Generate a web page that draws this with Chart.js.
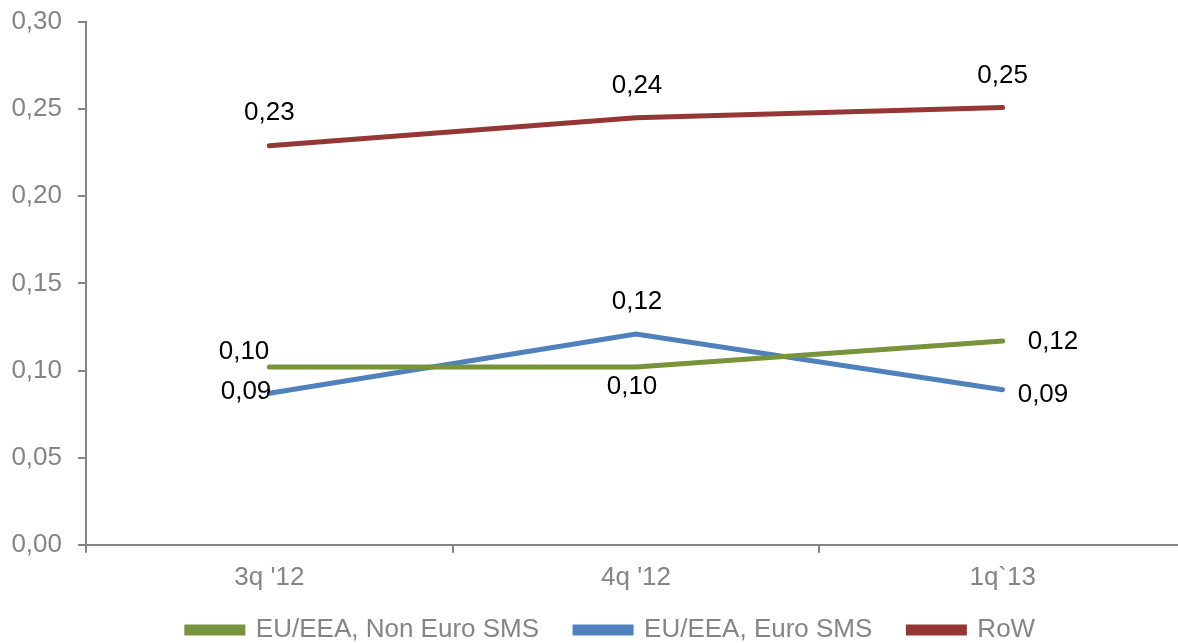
<!DOCTYPE html>
<html>
<head>
<meta charset="utf-8">
<script src="https://cdn.jsdelivr.net/npm/chart.js@4"></script>
<style>
  html, body { margin: 0; padding: 0; background: #fff; overflow: hidden; }
  #wrap { width: 1186px; height: 643px; }
</style>
</head>
<body>
<div id="wrap"><canvas id="c"></canvas></div>
<script>
  const quarters = ["3q '12", "4q '12", '1q`13'];
  const nonEuroSms = [0.102, 0.102, 0.117];
  const euroSms = [0.087, 0.121, 0.089];
  const restOfWorld = [0.229, 0.245, 0.251];
  const yTicks = [0, 0.05, 0.10, 0.15, 0.20, 0.25, 0.30];

  const GRAY = '#858585';
  const FONT = '"Liberation Sans", Arial, sans-serif';
  const fmt = (v) => v.toFixed(2).replace('.', ',');

  // where each value label sits relative to its point: [dx, dy, align]
  const labelSpots = [
    [[0, -15, 'right'], [-4, 20, 'center'], [25, 1, 'left']],
    [[2, -1, 'right'], [1, -32, 'center'], [15, 5, 'left']],
    [[0, -33, 'center'], [1, -32, 'center'], [0, -32, 'center']],
  ];

  const valueLabels = {
    id: 'valueLabels',
    afterDatasetsDraw(chart) {
      const ctx = chart.ctx;
      ctx.save();
      ctx.font = '26px ' + FONT;
      ctx.fillStyle = '#000';
      ctx.textBaseline = 'middle';
      chart.data.datasets.forEach((ds, i) => {
        chart.getDatasetMeta(i).data.forEach((pt, j) => {
          const [dx, dy, align] = labelSpots[i][j];
          ctx.textAlign = align;
          ctx.fillText(fmt(ds.data[j]), pt.x + dx, pt.y + dy);
        });
      });
      ctx.restore();
    },
  };

  // keep the legend short so the plot gets the room, then nudge it into place
  const legendPlace = {
    id: 'legendPlace',
    beforeInit(chart) {
      const fit = chart.legend.fit;
      chart.legend.fit = function () {
        fit.call(this);
        this.height = 41;
      };
    },
    afterLayout(chart) {
      const lg = chart.legend;
      lg.top -= 21;
      lg.left += 18;
      lg.right += 18;
    },
  };

  const line = (label, data, color) => ({
    label, data,
    borderColor: color,
    backgroundColor: color,
    borderWidth: 5,
    pointRadius: 0,
    tension: 0,
    borderCapStyle: 'round',
  });

  new Chart(document.getElementById('c'), {
    type: 'line',
    data: {
      labels: quarters,
      datasets: [
        line('EU/EEA, Non Euro SMS', nonEuroSms, '#77933C'),
        line('EU/EEA, Euro SMS', euroSms, '#4F81BD'),
        line('RoW', restOfWorld, '#953735'),
      ],
    },
    options: {
      responsive: true,
      maintainAspectRatio: false,
      animation: false,
      layout: { padding: { top: 22, right: 0, left: 0, bottom: 0 } },
      plugins: {
        tooltip: { enabled: false },
        legend: {
          position: 'bottom',
          labels: {
            boxWidth: 56,
            boxHeight: 6,
            padding: 36,
            color: GRAY,
            font: { size: 26, family: FONT },
          },
        },
      },
      scales: {
        x: {
          offset: true,
          grid: { offset: true, drawOnChartArea: false, tickLength: 8, color: GRAY, lineWidth: 2 },
          border: { color: GRAY, width: 2 },
          ticks: { color: GRAY, padding: 9, font: { size: 26, family: FONT } },
        },
        y: {
          min: 0,
          max: 0.30,
          afterFit: (s) => { s.width = 86; s.paddingTop = 0; s.paddingBottom = 0; },
          afterBuildTicks: (s) => { s.ticks = yTicks.map((v) => ({ value: v })); },
          grid: { drawOnChartArea: false, tickLength: 8, color: GRAY, lineWidth: 2 },
          border: { color: GRAY, width: 2 },
          ticks: { color: GRAY, padding: 16, callback: (v) => fmt(v), font: { size: 26, family: FONT } },
        },
      },
    },
    plugins: [valueLabels, legendPlace],
  });
</script>
</body>
</html>
